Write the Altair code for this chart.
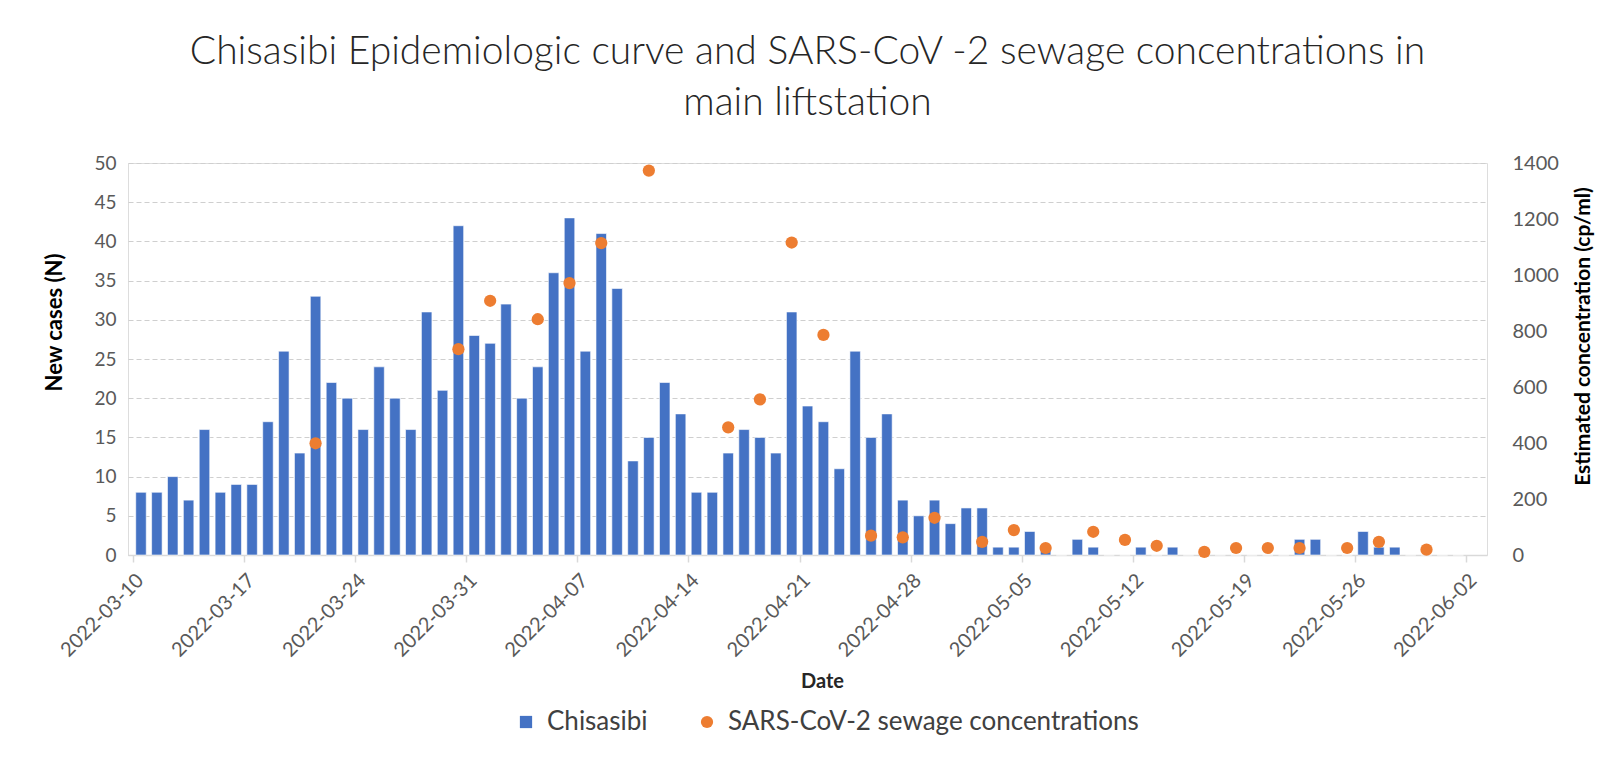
import altair as alt
import pandas as pd

# ---- data ----
start_date = "2022-03-10"
new_cases = [
    8, 8, 10, 7, 16, 8, 9, 9, 17, 26,
    13, 33, 22, 20, 16, 24, 20, 16, 31, 21,
    42, 28, 27, 32, 20, 24, 36, 43, 26, 41,
    34, 12, 15, 22, 18, 8, 8, 13, 16, 15,
    13, 31, 19, 17, 11, 26, 15, 18, 7, 5,
    7, 4, 6, 6, 1, 1, 3, 1, 0, 2,
    1, 0, 0, 1, 0, 1, 0, 0, 0, 0,
    0, 0, 0, 2, 2, 0, 0, 3, 1, 1,
    0, 0, 0, 0,
]
sewage_dates = [
    "2022-03-21", "2022-03-30", "2022-04-01", "2022-04-04", "2022-04-06",
    "2022-04-08", "2022-04-11", "2022-04-16", "2022-04-18", "2022-04-20",
    "2022-04-22", "2022-04-25", "2022-04-27", "2022-04-29", "2022-05-02",
    "2022-05-04", "2022-05-06", "2022-05-09", "2022-05-11", "2022-05-13",
    "2022-05-16", "2022-05-18", "2022-05-20", "2022-05-22", "2022-05-25",
    "2022-05-27", "2022-05-30",
]
sewage_conc = [
    399, 735, 908, 842, 971,
    1114, 1373, 456, 556, 1116,
    786, 69, 63, 133, 47,
    89, 25, 83, 54, 33,
    11, 25, 25, 25, 25,
    47, 19,
]
tick_dates = [
    (2022, 3, 10), (2022, 3, 17), (2022, 3, 24), (2022, 3, 31), (2022, 4, 7),
    (2022, 4, 14), (2022, 4, 21), (2022, 4, 28), (2022, 5, 5), (2022, 5, 12),
    (2022, 5, 19), (2022, 5, 26), (2022, 6, 2),
]
series_names = ["Chisasibi", "SARS-CoV-2 sewage concentrations"]
series_colors = ["#4472C4", "#ED7D31"]

cases_df = pd.DataFrame({
    "date": pd.date_range(start_date, periods=len(new_cases), freq="D").strftime("%Y-%m-%d"),
    "cases": new_cases,
})
sewage_df = pd.DataFrame({"date": sewage_dates, "conc": sewage_conc,
                          "series": series_names[1]})

FONT = "Lato"
W, H = 1359, 392
half_day = W / 85 / 2

x_scale = alt.Scale(
    type="utc",
    domain=[alt.DateTime(year=2022, month=3, date=10, utc=True),
            alt.DateTime(year=2022, month=6, date=3, utc=True)],
)
x_axis = alt.Axis(
    values=[alt.DateTime(year=y, month=m, date=d, utc=True) for y, m, d in tick_dates],
    format="%Y-%m-%d",
    labelAngle=315,
    labelFont=FONT, labelFontSize=20, labelColor="#595959",
    labelPadding=8,
    grid=False,
    domainColor="#D9D9D9", domainWidth=1.5,
    tickColor="#D9D9D9", tickSize=7, tickWidth=1.5,
    title="Date", titleFont=FONT, titleFontSize=20, titleFontWeight="bold",
    titleColor="#262626", titleX=694, titleY=126,
    titleAlign="center", titleBaseline="middle",
)

bars = alt.Chart(cases_df).mark_bar(
    width=10.5, xOffset=half_day, color=series_colors[0],
    stroke="white", strokeWidth=0.6,
).encode(
    x=alt.X("date:T", scale=x_scale, axis=x_axis),
    y=alt.Y("cases:Q",
            scale=alt.Scale(domain=[0, 50], nice=False),
            axis=alt.Axis(
                values=list(range(0, 51, 5)),
                grid=True, gridDash=[5, 3], gridColor="#CFCFCF",
                domain=False, ticks=False, labelPadding=12,
                labelFont=FONT, labelFontSize=19, labelColor="#595959",
                title="New cases (N)", titleFont=FONT, titleFontSize=22,
                titleFontWeight="bold", titleColor="#000000",
                titleAngle=270, titleX=-74, titleY=159,
                titleAlign="center", titleBaseline="middle",
            )),
)

legend = alt.Legend(
    title=None, orient="none", direction="horizontal",
    legendX=385, legendY=546,
    labelFont=FONT, labelFontSize=26, labelColor="#404040", labelLimit=0,
    symbolSize=150, symbolStrokeWidth=0, labelOffset=8, columnPadding=46,
)

points = alt.Chart(sewage_df).mark_point(
    filled=True, size=150, opacity=1, xOffset=half_day,
).encode(
    x=alt.X("date:T", scale=x_scale),
    y=alt.Y("conc:Q",
            scale=alt.Scale(domain=[0, 1400], nice=False),
            axis=alt.Axis(
                orient="right", values=list(range(0, 1401, 200)), format="d",
                grid=False, domain=False, ticks=False, labelPadding=25,
                labelFont=FONT, labelFontSize=20, labelColor="#595959",
                title="Estimated concentration (cp/ml)",
                titleFont=FONT, titleFontSize=21, titleFontWeight="bold",
                titleColor="#000000",
                titleAngle=270, titleX=96, titleY=173,
                titleAlign="center", titleBaseline="middle",
            )),
    color=alt.Color("series:N",
                    scale=alt.Scale(domain=series_names, range=series_colors),
                    legend=legend),
    shape=alt.Shape("series:N",
                    scale=alt.Scale(domain=series_names, range=["square", "circle"]),
                    legend=legend),
)

chart = alt.layer(bars, points).resolve_scale(y="independent").properties(
    width=W, height=H,
    autosize=alt.AutoSizeParams(type="none"),
    padding={"left": 120, "top": 155, "right": 112, "bottom": 180},
    title=alt.TitleParams(
        ["Chisasibi Epidemiologic curve and SARS-CoV -2 sewage concentrations in",
         "main liftstation"],
        font=FONT, fontSize=39, fontWeight=300, color="#262626",
        lineHeight=51, anchor="middle", offset=30,
    ),
).configure_view(stroke=None).configure(background="white")

chart.save("out.html", embed_options={"renderer": "svg", "actions": False})
